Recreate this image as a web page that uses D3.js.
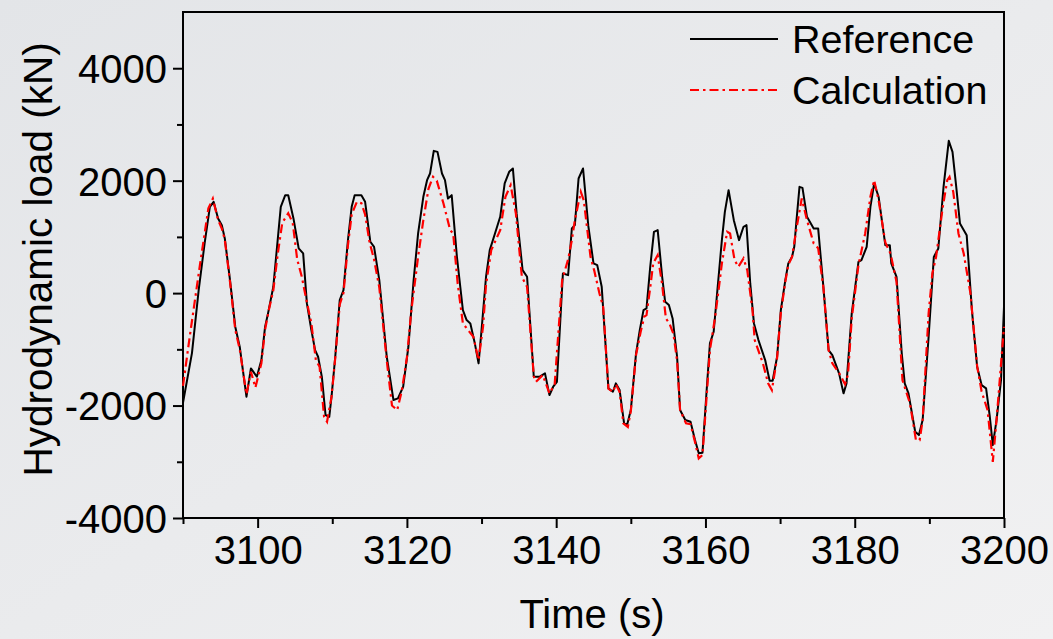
<!DOCTYPE html>
<html>
<head>
<meta charset="utf-8">
<script src="https://cdn.jsdelivr.net/npm/d3@7"></script>
<style>
  body { margin: 0; background: #e9eaec; }
  svg { display: block; font-family: "Liberation Sans", Arial, sans-serif; }
</style>
</head>
<body>
<svg></svg>
<script>
//time (s) and load (kN)
var refTime = [3090.0, 3091.2, 3092.1, 3092.9, 3093.6, 3094.1, 3094.7, 3095.2, 3095.6, 3096.3, 3097.0, 3097.6, 3098.5, 3099.1, 3099.9,
  3100.5, 3101.0, 3101.4, 3102.1, 3102.6, 3103.1, 3103.7, 3104.1, 3104.8, 3105.5, 3106.1, 3106.6, 3107.2, 3107.7, 3108.1, 3108.6, 3109.1, 3109.6, 3109.9,
  3110.4, 3111.0, 3111.5, 3112.1, 3112.6, 3113.0, 3113.9, 3114.4, 3115.1, 3115.6, 3116.3, 3117.3, 3118.2, 3118.8, 3119.5,
  3120.2, 3120.9, 3121.5, 3122.2, 3122.7, 3123.1, 3123.6, 3124.1, 3124.7, 3125.1, 3125.5, 3126.0, 3126.7, 3127.5, 3128.0, 3128.5, 3129.1, 3129.6,
  3130.0, 3130.6, 3131.1, 3131.8, 3132.5, 3133.1, 3133.7, 3134.2, 3134.7, 3135.5, 3136.1, 3137.0, 3137.8, 3138.5, 3139.1, 3139.6,
  3140.1, 3140.9, 3141.6, 3142.1, 3142.5, 3143.0, 3143.6, 3144.3, 3145.0, 3145.5, 3146.1, 3147.0, 3147.6, 3148.0, 3148.5, 3149.1, 3149.5,
  3150.0, 3150.7, 3151.2, 3151.7, 3152.1, 3152.6, 3153.1, 3153.6, 3154.2, 3154.6, 3155.1, 3155.6, 3156.2, 3156.6, 3157.3, 3158.0, 3158.6, 3159.1, 3159.6,
  3160.1, 3160.6, 3161.1, 3161.6, 3162.2, 3162.6, 3163.1, 3163.8, 3164.5, 3165.1, 3165.5, 3166.0, 3166.5, 3167.1, 3168.0, 3168.6, 3169.0, 3169.6,
  3170.1, 3170.7, 3171.1, 3171.6, 3171.9, 3172.2, 3172.6, 3173.0, 3173.6, 3174.5, 3175.1, 3175.8, 3176.5, 3177.0, 3177.9, 3178.5, 3178.9, 3179.6,
  3180.5, 3180.9, 3181.6, 3182.1, 3182.6, 3183.2, 3184.1, 3184.7, 3184.9, 3185.6, 3186.3, 3186.7, 3187.2, 3188.1, 3188.6, 3189.1, 3189.9,
  3190.6, 3191.2, 3191.9, 3192.6, 3193.1, 3193.6, 3194.1, 3195.0, 3195.7, 3196.4, 3197.0, 3197.6, 3198.1, 3198.5, 3199.0, 3199.6, 3200.0];
var refLoad = [-1950, -1067, 53, 889, 1535, 1624, 1328, 1209, 972, 231, -598, -954, -1843, -1339, -1487,
  -1191, -598, -356, 112, 823, 1535, 1742, 1742, 1328, 795, 706, -183, -658, -1013, -1132, -1487, -2169, -2199, -1843,
  -1132, -124, 53, 942, 1535, 1742, 1742, 1624, 913, 823, 231, -1132, -1902, -1873, -1665,
  -954, 231, 1061, 1713, 2009, 2128, 2530, 2512, 2128, 2009, 1683, 1742, 645, -302, -480, -539, -894, -1250,
  -658, 290, 764, 1061, 1357, 1950, 2157, 2217, 1417, 409, 290, -1487, -1487, -1428, -1814, -1665,
  -1577, 350, 320, 1150, 1209, 2039, 2217, 1200, 528, 498, 112, -1695, -1754, -1606, -1725, -2317, -2347,
  -2080, -1072, -658, -302, -272, 468, 1090, 1120, 290, -154, -213, -450, -1132, -2080, -2258, -2288, -2614, -2850, -2840,
  -1843, -894, -687, 53, 942, 1446, 1831, 1298, 942, 1180, 1209, 172, -539, -836, -1191, -1558, -1558, -1132,
  -302, 231, 528, 645, 823, 1298, 1890, 1872, 1357, 1150, 1150, 112, -1013, -1102, -1428, -1783, -1606, -361,
  557, 587, 823, 1535, 1950, 1713, 853, 853, 528, 290, -1072, -1606, -1783, -2466, -2525, -2258, -777,
  645, 795, 1890, 2708, 2512, 1890, 1239, 1031, -302, -1310, -1636, -1695, -2199, -2703, -2258, -1547, -243];

//time (s) and load (kN)
var calcTime = [3090.0, 3090.9, 3092.3, 3093.4, 3094.0, 3094.7, 3095.2, 3095.6, 3096.3, 3097.0, 3097.6, 3098.5, 3099.1, 3099.7,
  3100.5, 3101.0, 3101.5, 3102.1, 3102.7, 3103.3, 3104.1, 3104.7, 3105.3, 3105.9, 3106.5, 3107.2, 3107.8, 3108.3, 3108.9, 3109.3, 3109.9,
  3110.4, 3111.0, 3111.5, 3112.1, 3112.6, 3113.3, 3113.9, 3114.4, 3115.0, 3115.6, 3116.3, 3117.3, 3118.0, 3118.7, 3119.3,
  3120.0, 3120.6, 3121.5, 3122.2, 3122.9, 3123.5, 3124.0, 3124.9, 3125.8, 3126.2, 3126.8, 3127.5, 3128.2, 3128.9, 3129.6,
  3130.2, 3130.6, 3131.3, 3132.5, 3133.2, 3133.9, 3134.6, 3135.4, 3136.1, 3137.0, 3137.3, 3138.2, 3139.1, 3139.8,
  3140.8, 3141.6, 3142.1, 3142.5, 3143.3, 3143.7, 3144.6, 3145.1, 3145.8, 3146.3, 3147.0, 3147.6, 3148.0, 3148.5, 3149.0, 3149.6,
  3150.0, 3150.7, 3151.3, 3151.8, 3152.1, 3152.6, 3153.0, 3153.6, 3154.2, 3154.7, 3155.2, 3155.7, 3156.2, 3156.6, 3157.4, 3158.0, 3158.6, 3159.1, 3159.6,
  3160.1, 3160.6, 3161.3, 3161.8, 3162.2, 3162.9, 3163.3, 3163.9, 3164.4, 3165.1, 3165.6, 3166.3, 3166.6, 3167.7, 3168.4, 3168.9, 3169.6,
  3170.1, 3170.7, 3171.1, 3171.6, 3172.2, 3172.9, 3173.6, 3174.5, 3175.1, 3175.8, 3176.5, 3177.0, 3177.9, 3178.7, 3179.1, 3179.6,
  3180.5, 3181.4, 3182.1, 3182.6, 3183.2, 3184.1, 3184.8, 3185.6, 3186.4, 3187.4, 3188.2, 3188.7, 3189.1, 3189.9,
  3190.4, 3190.9, 3191.8, 3192.4, 3192.7, 3193.2, 3193.9, 3194.6, 3195.5, 3196.4, 3197.0, 3197.8, 3198.5, 3199.0, 3200.0];
var calcLoad = [-1650, -777, 528, 1506, 1680, 1300, 1150, 950, 200, -650, -1000, -1800, -1400, -1680,
  -1250, -650, -300, 50, 700, 1250, 1420, 1250, 600, 300, -100, -539, -1191, -1310, -2199, -2288, -1843,
  -1150, -200, 0, 850, 1400, 1624, 1600, 1400, 900, 600, 100, -1200, -2000, -2080, -1750,
  -1150, -300, 645, 1298, 1861, 2068, 2000, 1594, 1120, 1060, 172, -539, -658, -776, -1190,
  -600, 150, 764, 1120, 1713, 1920, 1417, 290, 112, -1480, -1577, -1457, -1783, -1620,
  231, 600, 942, 1298, 1802, 1650, 645, 400, -6, -250, -1700, -1760, -1620, -1760, -2317, -2380,
  -2100, -1100, -700, -420, -391, 100, 528, 676, 150, -450, -550, -720, -1200, -2080, -2317, -2330, -2650, -2940, -2880,
  -1950, -1013, -421, 100, 528, 1090, 1060, 587, 468, 617, 409, -302, -836, -1250, -1606, -1725, -1150,
  -350, 200, 500, 645, 1150, 1683, 1300, 883, 800, 100, -1013, -1250, -1420, -1620, -1450, -450,
  500, 1061, 1713, 2009, 1650, 900, 700, 200, -1550, -1961, -2614, -2614, -2258, -361,
  350, 645, 1535, 2009, 2068, 1800, 1061, 706, 0, -1300, -1750, -2080, -3000, -2258, -598];

//axis tick values and legend labels
var xMajorTicks = [3100, 3120, 3140, 3160, 3180, 3200];
var xMinorTicks = [3090, 3110, 3130, 3150, 3170, 3190];
var yMajorTicks = [-4000, -2000, 0, 2000, 4000];
var yMinorTicks = [-3000, -1000, 1000, 3000];
var seriesNames = ["Reference", "Calculation"];

var svgWidth = 1053, svgHeight = 639;
var margin = {top: 12, right: 49, bottom: 121, left: 183};
var w = svgWidth - margin.left - margin.right;
var h = svgHeight - margin.top - margin.bottom;

var svg = d3.select("svg")
    .attr("width", svgWidth)
    .attr("height", svgHeight);

//soft grey backdrop like the slide behind the figure
var grad = svg.append("defs").append("linearGradient")
    .attr("id", "bg").attr("x1", 0).attr("y1", 0).attr("x2", 1).attr("y2", 1);
grad.append("stop").attr("offset", "0%").attr("stop-color", "#e3e5e8");
grad.append("stop").attr("offset", "100%").attr("stop-color", "#f1f1f2");
svg.append("rect").attr("width", svgWidth).attr("height", svgHeight).attr("fill", "url(#bg)");

var g = svg.append("g").attr("transform", "translate(" + margin.left + "," + margin.top + ")");

var x = d3.scaleLinear().domain([3090, 3200]).range([0, w]);
var y = d3.scaleLinear().domain([-4000, 5000]).range([h, 0]);

//plain hyphen for negatives, like the original
var plain = function(d) { return String(d); };

//minor ticks first, then major axes with labels
g.append("g").attr("transform", "translate(0," + h + ")")
    .call(d3.axisBottom(x).tickValues(xMinorTicks).tickSize(6).tickFormat(""));
g.append("g").call(d3.axisLeft(y).tickValues(yMinorTicks).tickSize(6).tickFormat(""));

var xAxis = g.append("g").attr("transform", "translate(0," + h + ")")
    .call(d3.axisBottom(x).tickValues(xMajorTicks).tickSize(10).tickPadding(7).tickFormat(plain));
var yAxis = g.append("g")
    .call(d3.axisLeft(y).tickValues(yMajorTicks).tickSize(10).tickPadding(6).tickFormat(plain));

g.selectAll(".domain, .tick line").attr("stroke", "#000").attr("stroke-width", 2);
g.selectAll(".domain").attr("d", null);
xAxis.selectAll("text").attr("font-size", 40).attr("fill", "#000").attr("dy", "0.72em");
yAxis.selectAll("text").attr("font-size", 40).attr("fill", "#000").attr("dy", "0.36em");

//frame around the plot
g.append("rect").attr("width", w).attr("height", h)
    .attr("fill", "none").attr("stroke", "#000").attr("stroke-width", 2);

var line = d3.line()
    .x(function(d) { return x(d[0]); })
    .y(function(d) { return y(d[1]); });

var refData = d3.zip(refTime, refLoad);
var calcData = d3.zip(calcTime, calcLoad);

g.append("path").datum(refData)
    .attr("d", line).attr("fill", "none")
    .attr("stroke", "#000").attr("stroke-width", 2).attr("stroke-linejoin", "round");
g.append("path").datum(calcData)
    .attr("d", line).attr("fill", "none")
    .attr("stroke", "#ff0000").attr("stroke-width", 2.2)
    .attr("stroke-dasharray", "9,4,2.5,4");

//legend
var legend = g.append("g").attr("transform", "translate(" + (690 - margin.left) + "," + (39 - margin.top) + ")");
legend.selectAll("line").data(seriesNames).enter().append("line")
    .attr("x1", 0).attr("x2", 88)
    .attr("y1", function(d, i) { return i * 51; })
    .attr("y2", function(d, i) { return i * 51; })
    .attr("stroke", function(d, i) { return i === 0 ? "#000" : "#ff0000"; })
    .attr("stroke-width", 2)
    .attr("stroke-dasharray", function(d, i) { return i === 0 ? null : "9,4,2.5,4"; });
legend.selectAll("text").data(seriesNames).enter().append("text")
    .attr("x", 102)
    .attr("y", function(d, i) { return i * 51; })
    .attr("dy", "0.36em")
    .attr("font-size", 39.5)
    .text(function(d) { return d; });

//axis titles
svg.append("text")
    .attr("x", margin.left + x(3144.8)).attr("y", 628)
    .attr("text-anchor", "middle").attr("font-size", 40)
    .text("Time (s)");
svg.append("text")
    .attr("transform", "translate(52," + (margin.top + y(600)) + ") rotate(-90)")
    .attr("text-anchor", "middle").attr("font-size", 40.5)
    .text("Hydrodynamic load (kN)");
</script>
</body>
</html>
